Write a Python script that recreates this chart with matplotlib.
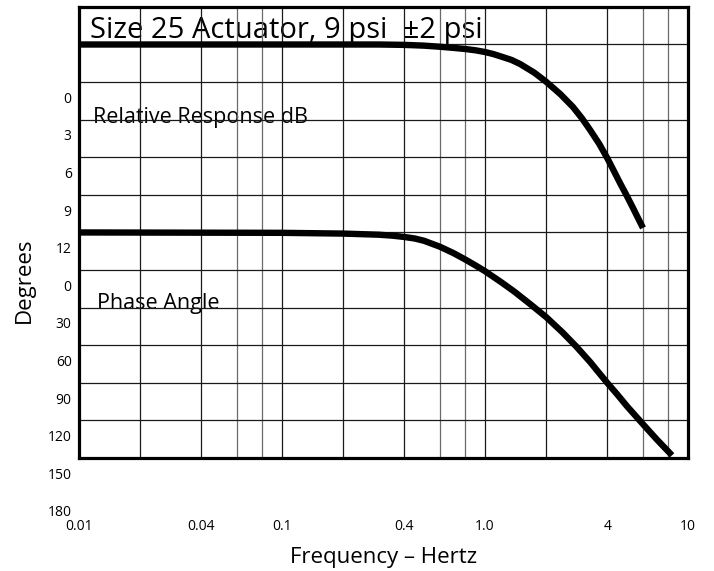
import numpy as np
import matplotlib
matplotlib.use("Agg")
import matplotlib.pyplot as plt
import matplotlib.transforms as mtransforms

plt.rcParams['font.family'] = ['Open Sans', 'DejaVu Sans']

# frequency (Hz) and position in grid rows (0 = top row, 12 = bottom)
resp_freq = [0.01, 0.1, 0.3, 0.4, 0.5, 0.6, 0.7, 0.8, 0.9, 1.0, 1.1, 1.2, 1.35, 1.49, 1.75,
             2.0, 2.35, 2.71, 3.0, 3.29, 3.65, 4.0, 4.3, 4.62, 5.0, 5.36, 5.7, 6.0]
resp_row = [1.0, 1.0, 1.0, 1.01, 1.03, 1.06, 1.09, 1.12, 1.155, 1.2, 1.255, 1.32, 1.41, 1.52, 1.75,
            1.99, 2.32, 2.66, 2.96, 3.27, 3.64, 4.02, 4.35, 4.68, 5.03, 5.35, 5.64, 5.88]

phase_freq = [0.01, 0.1, 0.2, 0.3, 0.35, 0.4, 0.45, 0.5, 0.6, 0.7, 0.8, 0.9, 1.0, 1.2,
              1.4, 1.7, 2.0, 2.4, 2.8, 3.3, 3.6, 4.0, 4.5, 5.0, 6.0, 7.0, 8.34]
phase_row = [6.0, 6.01, 6.03, 6.06, 6.085, 6.12, 6.16, 6.22, 6.38, 6.55, 6.72, 6.88, 7.03, 7.32,
             7.58, 7.94, 8.25, 8.65, 9.02, 9.45, 9.7, 10.0, 10.32, 10.62, 11.1, 11.5, 11.93]

x_ticks = [0.01, 0.04, 0.1, 0.4, 1.0, 4, 10]
x_labels = ['0.01', '0.04', '0.1', '0.4', '1.0', '4', '10']
y_labels = ['0', '3', '6', '9', '12', '0', '30', '60', '90', '120', '150', '180']

fig = plt.figure(figsize=(7.14, 5.71), dpi=100)
ax = fig.add_axes([0.1106, 0.1979, 0.853, 0.79])

ax.set_xscale('log')
ax.set_xlim(0.01, 10)
ax.set_ylim(12, 0)

# grid lines: 1,2,4 dark, 6,8 lighter
dark = [m * 10.0 ** e for e in (-2, -1, 0) for m in (1, 2, 4)]
light = [m * 10.0 ** e for e in (-2, -1, 0) for m in (6, 8)]
for v in dark:
    ax.axvline(v, color='#1a1a1a', lw=0.9, zorder=2)
for v in light:
    ax.axvline(v, color='#6a6a6a', lw=0.9, zorder=2)
for r in range(1, 12):
    ax.axhline(r, color='#1a1a1a', lw=0.9, zorder=2)

ax.plot(resp_freq, resp_row, color='black', lw=4.6, solid_capstyle='butt', zorder=3)
ax.plot(phase_freq, phase_row, color='black', lw=4.6, solid_capstyle='butt', zorder=3)

for s in ax.spines.values():
    s.set_linewidth(2.3)
    s.set_zorder(4)

ax.set_xticks(x_ticks)
ax.set_xticklabels(x_labels, fontsize=10)
ax.xaxis.set_minor_locator(matplotlib.ticker.NullLocator())
ax.tick_params(axis='x', length=0, pad=44)
ax.set_yticks([])

trans = mtransforms.blended_transform_factory(ax.transAxes, ax.transData)
for i, lab in enumerate(y_labels):
    ax.text(-0.012, i + 2.46, lab, transform=trans, ha='right', va='center',
            fontsize=10, clip_on=False)

ax.text(0.018, 0.82, 'Size 25 Actuator, 9 psi  \u00b12 psi', transform=trans,
        ha='left', va='baseline', fontsize=21, zorder=1)
ax.text(0.023, 3.09, 'Relative Response dB', transform=trans,
        ha='left', va='baseline', fontsize=15.5, zorder=1)
ax.text(0.0296, 8.03, 'Phase Angle', transform=trans,
        ha='left', va='baseline', fontsize=15.5, zorder=1)

ax.set_xlabel('Frequency \u2013 Hertz', fontsize=16, labelpad=9)
fig.text(0.034, 0.51, 'Degrees', rotation=90, ha='center', va='center', fontsize=16)

fig.savefig('out.png', dpi=100)
